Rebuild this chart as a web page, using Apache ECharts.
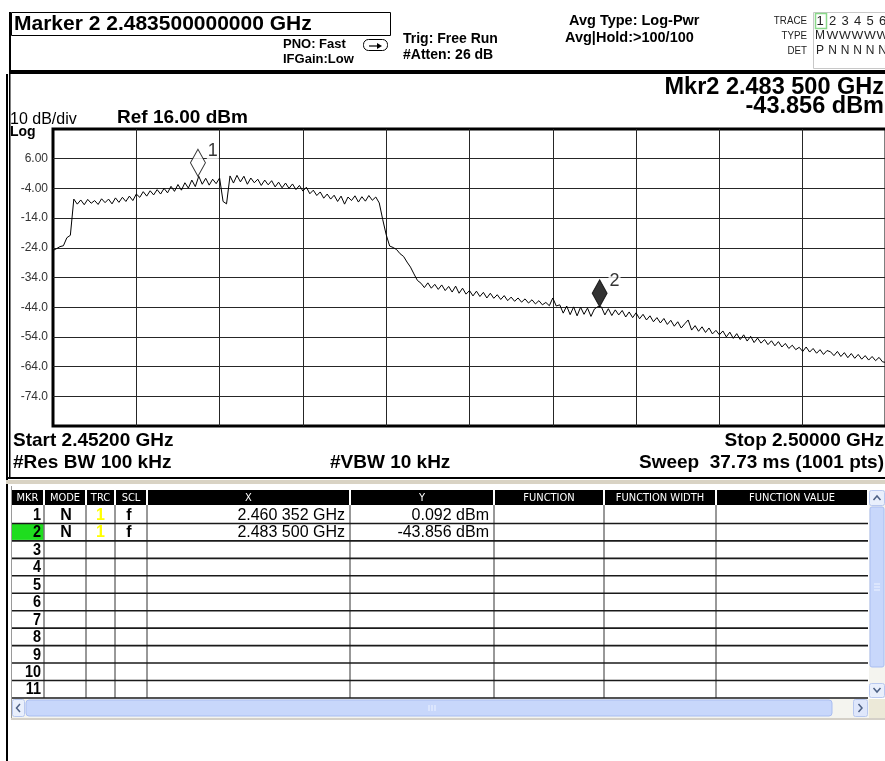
<!DOCTYPE html>
<html>
<head>
<meta charset="utf-8">
<script src="https://cdn.jsdelivr.net/npm/echarts@6/dist/echarts.min.js"></script>
<style>
  html, body { margin: 0; padding: 0; background: #fff; }
  #c { width: 885px; height: 761px; }
</style>
</head>
<body>
<div id="c"></div>
<script>
// Sweep settings
const startGHz = 2.452;
const stopGHz = 2.500;
const sweepStepGHz = 0.0002;
const refLevelDbm = 16;
const bottomDbm = -84;

// Trace 1 (max hold), one value per sweep step, dBm
const traceDbm = [
  -24.9, -24.3, -23.6, -23.3, -20.6, -19.8, -7.6, -9.3, -7.9, -9.5,
  -7.7, -9.0, -8.1, -9.4, -7.5, -8.8, -7.6, -9.2, -7.2, -8.7,
  -7.0, -8.4, -6.6, -8.1, -5.9, -7.0, -5.1, -6.6, -4.8, -6.2,
  -4.4, -5.9, -4.0, -5.5, -3.3, -5.0, -2.7, -4.6, -2.1, -3.9,
  -1.2, -3.4, 0.092, -2.6, -0.6, -2.9, -0.9, -2.4, -0.5, -8.4,
  -9.2, 0.2, -2.2, 0.4, -1.8, 0.1, -2.6, -0.5, -2.1, -0.9,
  -3.0, -1.2, -2.8, -1.4, -3.5, -1.9, -3.8, -2.2, -4.0, -2.5,
  -4.4, -3.0, -4.9, -3.6, -5.8, -4.6, -6.4, -5.2, -7.3, -5.9,
  -7.6, -6.3, -8.4, -6.6, -9.3, -6.9, -8.1, -6.5, -8.6, -6.8,
  -8.3, -6.4, -8.0, -6.9, -8.9, -14.5, -19.6, -23.4, -23.9, -24.6,
  -26.0, -26.9, -28.8, -30.5, -32.8, -35.0, -35.9, -37.4, -35.8, -37.6,
  -36.3, -38.0, -36.5, -38.4, -37.0, -38.9, -36.9, -39.3, -37.6, -39.6,
  -38.4, -40.2, -38.6, -40.4, -39.0, -40.9, -39.3, -41.0, -39.8, -41.4,
  -40.1, -41.8, -40.6, -42.0, -40.9, -42.3, -41.2, -42.6, -41.5, -42.9,
  -41.8, -43.2, -42.4, -43.5, -40.9, -43.6, -43.2, -46.0, -43.6, -46.5,
  -43.9, -46.9, -44.0, -46.4, -44.3, -47.1, -44.6, -43.8, -43.9, -46.6,
  -44.5, -46.8, -44.9, -46.6, -45.1, -47.3, -45.6, -47.5, -45.9, -47.9,
  -46.4, -48.3, -46.9, -48.9, -47.5, -49.3, -47.8, -49.8, -48.4, -50.4,
  -48.9, -51.0, -49.6, -48.3, -51.7, -50.2, -52.1, -50.6, -52.5, -51.0,
  -53.0, -51.8, -53.3, -52.0, -54.0, -52.4, -54.5, -52.9, -54.9, -53.3,
  -55.4, -53.8, -55.9, -54.4, -56.1, -54.9, -56.6, -55.3, -57.0, -55.6,
  -57.4, -56.2, -57.9, -56.8, -58.3, -57.5, -58.9, -57.4, -59.1, -57.9,
  -59.5, -58.3, -59.9, -58.6, -59.0, -60.3, -58.9, -60.6, -59.3, -61.0,
  -59.6, -61.2, -59.9, -61.5, -60.3, -61.8, -60.6, -62.0, -60.9, -62.4,
  -62.6
];

// Graticule levels and their labels
const yTickValues = [6, -4, -14, -24, -34, -44, -54, -64, -74];
const yTickLabels = ['6.00', '-4.00', '-14.0', '-24.0', '-34.0', '-44.0', '-54.0', '-64.0', '-74.0'];
const xDivisions = 10;

// Markers
const markerIds = ['1', '2'];
const markerFreqGHz = [2.460352, 2.4835];
const markerDbm = [0.092, -43.856];
const markerFilled = [false, true];
const activeMarker = 1;

// Marker table
const tableColumns = ['MKR', 'MODE', 'TRC', 'SCL', 'X', 'Y', 'FUNCTION', 'FUNCTION WIDTH', 'FUNCTION VALUE'];
const tableColEdges = [12, 44, 86, 115, 147, 350, 494, 604, 716, 868];
const tableRowCount = 11;
const markerMode = ['N', 'N'];
const markerTrace = ['1', '1'];
const markerScale = ['f', 'f'];

const FF = '"Liberation Sans", Arial, sans-serif';
const NF = '"Liberation Sans Narrow", "DejaVu Sans Condensed", Roboto, sans-serif';
const B = s => 'bold ' + s + 'px ' + FF;
const R = s => s + 'px ' + FF;

function fmtGHz(f) {
  const s = f.toFixed(6);
  return s.slice(0, 5) + ' ' + s.slice(5) + ' GHz';
}

const G = [];
function text(x, y, s, font, o) {
  o = o || {};
  G.push({
    type: 'text', x: x, y: y, silent: true, z: 120, scaleX: o.sx || 1,
    style: {
      text: s, font: font, fill: o.color || '#000',
      textAlign: o.align || 'left', textVerticalAlign: o.va || 'middle'
    }
  });
}
function rect(x, y, w, h, fill, stroke, lw, r, z) {
  G.push({
    type: 'rect', silent: true, z: z || 100,
    shape: { x: x, y: y, width: w, height: h, r: r || 0 },
    style: { fill: fill || 'none', stroke: stroke || 'none', lineWidth: lw || 0 }
  });
}
function line(x1, y1, x2, y2, stroke, lw, z) {
  G.push({
    type: 'line', silent: true, z: z || 110,
    shape: { x1: x1, y1: y1, x2: x2, y2: y2 },
    style: { stroke: stroke, lineWidth: lw || 1 }
  });
}
function poly(points, stroke, lw, fill, z) {
  G.push({
    type: fill ? 'polygon' : 'polyline', silent: true, z: z || 112,
    shape: { points: points },
    style: { stroke: stroke || 'none', lineWidth: lw || 1, fill: fill || 'none' }
  });
}

// ---- instrument status header ----
rect(9, 12, 2, 62, '#000');
rect(11.5, 12.5, 379, 23, '#fff', '#000', 1);
text(14, 24, 'Marker ' + markerIds[activeMarker] + ' ' + markerFreqGHz[activeMarker].toFixed(12) + ' GHz', B(21));
text(283, 44, 'PNO: Fast', B(13));
text(283, 59, 'IFGain:Low', B(13));
rect(363.5, 39.5, 24, 11, '#fff', '#000', 1, 5);
line(369, 46, 378, 46, '#000', 1.2);
poly([[377, 43], [382, 46], [377, 49]], null, 1, '#000');
text(403, 39, 'Trig: Free Run', B(14));
text(403, 55, '#Atten: 26 dB', B(14));
text(569, 21, 'Avg Type: Log-Pwr', B(14.5));
text(565, 38, 'Avg|Hold:>100/100', B(14.5));

text(807, 21, 'TRACE', R(11.5), { align: 'right', sx: 0.85, color: '#222' });
text(807, 36, 'TYPE', R(11.5), { align: 'right', sx: 0.85, color: '#222' });
text(807, 51, 'DET', R(11.5), { align: 'right', sx: 0.85, color: '#222' });
rect(813.5, 12.5, 80, 56, null, '#c8c8c8', 1);
const traceSlotX = [820, 832.5, 845, 857.5, 870, 882.5];
rect(815.5, 13.5, 11, 15, null, '#8ad88a', 1.5);
['1', '2', '3', '4', '5', '6'].forEach((d, i) => text(traceSlotX[i], 21, d, R(13), { align: 'center', color: '#222' }));
['M', 'W', 'W', 'W', 'W', 'W'].forEach((d, i) => text(traceSlotX[i], 36, d, R(i ? 10 : 12), { align: 'center', color: '#222', sx: i ? 1.25 : 1 }));
['P', 'N', 'N', 'N', 'N', 'N'].forEach((d, i) => text(traceSlotX[i], 51, d, R(12), { align: 'center', color: '#222' }));

rect(9, 70, 876, 4, '#000');

// ---- display panel frame ----
rect(6, 74, 2, 687, '#000');
rect(9, 74, 1.5, 404, '#000');
rect(6, 477, 879, 2, '#000');
rect(6, 480, 879, 4, '#d9d3c4');

text(884, 88, 'Mkr' + markerIds[activeMarker] + ' ' + fmtGHz(markerFreqGHz[activeMarker]), B(23.5), { align: 'right' });
text(884, 107, markerDbm[activeMarker].toFixed(3) + ' dBm', B(23.5), { align: 'right' });
text(10, 120, '10 dB/div', R(16));
text(117, 118, 'Ref ' + refLevelDbm.toFixed(2) + ' dBm', B(19));
text(10, 132, 'Log', B(14));

text(13, 441, 'Start ' + startGHz.toFixed(5) + ' GHz', B(19));
text(884, 441, 'Stop ' + stopGHz.toFixed(5) + ' GHz', B(19), { align: 'right' });
text(13, 463, '#Res BW 100 kHz', B(19));
text(330, 463, '#VBW 10 kHz', B(19));
text(884, 463, 'Sweep  37.73 ms (1001 pts)', B(19), { align: 'right' });

// ---- marker table ----
const headTop = 490, headH = 15, bodyTop = 506, rowH = 17.45;
tableColumns.forEach((name, i) => {
  const x0 = tableColEdges[i] + (i ? 1 : 0), x1 = tableColEdges[i + 1] - 1;
  rect(x0, headTop, x1 - x0, headH, '#000');
  text((x0 + x1) / 2, headTop + headH / 2 + 0.5, name, '11px ' + NF, { align: 'center', color: '#fff' });
});
line(11.5, 486, 11.5, 719, '#9a9a9a', 1);
const bodyBottom = bodyTop + tableRowCount * rowH;
tableColEdges.slice(1, -1).forEach(x => line(x, headTop + headH, x, bodyBottom, '#333', 1));
for (let k = 1; k <= tableRowCount; k++) {
  const yTop = bodyTop + (k - 1) * rowH;
  const yc = yTop + rowH / 2;
  if (k - 1 === activeMarker) rect(12, yTop + 0.5, 31.5, rowH - 1.5, '#1fdd1f', null, 0, 0, 105);
  line(12, yTop + rowH, 868, yTop + rowH, '#1a1a1a', 1.6);
  text(41, yc + 0.5, String(k), B(17), { align: 'right', sx: 0.85 });
}
markerIds.forEach((id, i) => {
  const yc = bodyTop + i * rowH + rowH / 2 + 0.5;
  text(66, yc, markerMode[i], B(16), { align: 'center' });
  text(100.5, yc, markerTrace[i], B(16), { align: 'center', color: '#ffff00' });
  text(129, yc, markerScale[i], B(16), { align: 'center' });
  text(345, yc, fmtGHz(markerFreqGHz[i]), R(16), { align: 'right' });
  text(489, yc, markerDbm[i].toFixed(3) + ' dBm', R(16), { align: 'right' });
});

// vertical scrollbar
rect(869, 490, 16, 208, '#f4f4ef');
rect(869.5, 490.5, 15, 15, '#e9effc', '#b8c8ef', 1, 2);
poly([[873.5, 500], [877, 496], [880.5, 500]], '#4d6185', 1.5);
rect(870, 507, 14, 160, '#c8d7fb', '#a9bdf1', 1, 2);
[584, 587, 590].forEach(y => line(874, y, 880, y, '#eef3ff', 1));
rect(869.5, 683.5, 15, 14, '#e9effc', '#b8c8ef', 1, 2);
poly([[873.5, 688], [877, 692], [880.5, 688]], '#4d6185', 1.5);

// horizontal scrollbar
rect(12, 699, 873, 19, '#f4f4ef');
rect(12.5, 699.5, 12, 17, '#e9effc', '#b8c8ef', 1, 2);
poly([[20, 704], [16.5, 708], [20, 712]], '#4d6185', 1.5);
rect(26, 700, 806, 16, '#c8d7fb', '#a9bdf1', 1, 3);
[429, 432, 435].forEach(x => line(x, 705, x, 711, '#eef3ff', 1));
rect(853.5, 699.5, 14, 17, '#dfe7fb', '#b8c8ef', 1, 2);
poly([[858.5, 704], [862, 708], [858.5, 712]], '#4d6185', 1.5);
rect(869, 699, 16, 19, '#ece9d8');
line(11, 719, 885, 719, '#d4d0c8', 2);

// ---- chart ----
const xDivGHz = (stopGHz - startGHz) / xDivisions;
const xGridLines = [];
for (let k = 1; k < xDivisions; k++) xGridLines.push(startGHz + k * xDivGHz);

const chart = echarts.init(document.getElementById('c'), null, { renderer: 'canvas', width: 885, height: 761 });
chart.setOption({
  animation: false,
  backgroundColor: '#fff',
  grid: {
    left: 53, top: 129, width: 833, height: 297,
    show: true, borderColor: '#000', borderWidth: 3, backgroundColor: 'transparent',
    containLabel: false, outerBoundsMode: 'none'
  },
  xAxis: {
    type: 'value', min: startGHz, max: stopGHz,
    axisLine: { show: false }, axisTick: { show: false }, axisLabel: { show: false }, splitLine: { show: false }
  },
  yAxis: {
    type: 'value', min: bottomDbm, max: refLevelDbm,
    axisLine: { show: false }, axisTick: { show: false }, axisLabel: { show: false }, splitLine: { show: false }
  },
  series: [
    {
      type: 'line', name: 'graticule', z: 1, silent: true, symbol: 'none', data: [],
      markLine: {
        z: 1, silent: true, animation: false, symbol: ['none', 'none'], precision: 8,
        lineStyle: { color: '#262626', width: 1, type: 'solid' },
        emphasis: { disabled: true },
        label: { show: false },
        data: xGridLines.map(x => ({ xAxis: x })).concat(
          yTickValues.map((v, i) => ({
            yAxis: v,
            label: {
              show: true, position: 'start', distance: 5, formatter: yTickLabels[i],
              color: '#333', fontSize: 12, fontFamily: 'Liberation Sans'
            }
          }))
        )
      }
    },
    {
      type: 'line', name: 'Trace 1', z: 3, silent: true, symbol: 'none', clip: true,
      data: traceDbm.map((v, i) => [startGHz + i * sweepStepGHz, v]),
      lineStyle: { color: '#000', width: 1 }
    },
    {
      type: 'scatter', name: 'Markers', z: 5, silent: true,
      data: markerIds.map((id, i) => ({
        value: [markerFreqGHz[i], markerDbm[i]],
        symbol: 'diamond', symbolSize: [15, 27], symbolOffset: [0, -13.5],
        itemStyle: { color: markerFilled[i] ? '#000' : '#fff', borderColor: '#000', borderWidth: 1 },
        label: {
          show: true, formatter: id, position: 'right', distance: 1, offset: [0, -12],
          color: '#000', fontSize: 18, fontFamily: 'Liberation Sans',
          backgroundColor: '#fff', padding: [0, 1]
        }
      }))
    }
  ],
  graphic: { elements: G }
});
</script>
</body>
</html>
